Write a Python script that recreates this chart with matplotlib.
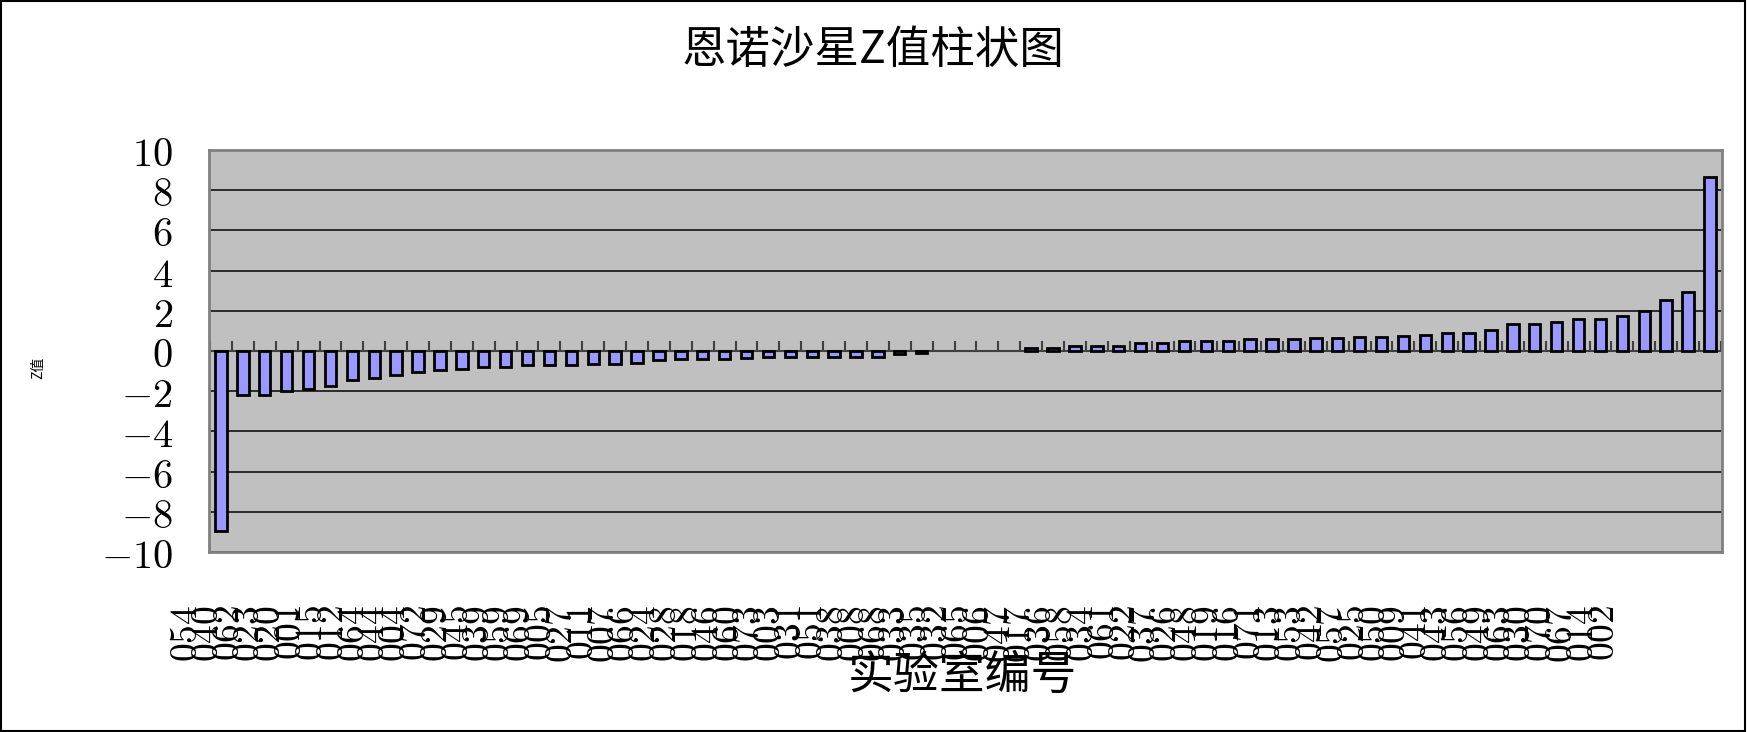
import numpy as np
import matplotlib
matplotlib.use("Agg")
import matplotlib.pyplot as plt
from matplotlib.patches import Rectangle
from matplotlib.ticker import FuncFormatter
import matplotlib.transforms as mtransforms

plt.rcParams['font.family'] = ['Noto Sans CJK SC', 'DejaVu Sans']
plt.rcParams['mathtext.fontset'] = 'cm'

# lab codes (best guess)
labs = ["054", "040", "062", "023", "020", "001", "015", "012", "064", "044",
        "004", "072", "029", "045", "039", "059", "069", "005", "027", "011",
        "007", "066", "024", "028", "018", "046", "060", "073", "003", "031",
        "051", "038", "008", "068", "033", "035", "032", "065", "006", "047",
        "017", "036", "058", "034", "061", "022", "037", "026", "048", "019",
        "016", "071", "013", "053", "042", "057", "025", "050", "009", "041",
        "043", "056", "049", "063", "030", "070", "067", "014", "002"]

z_values = [-8.95, -2.2, -2.2, -2.0, -1.9, -1.75, -1.45, -1.35, -1.2, -1.05,
            -0.95, -0.9, -0.8, -0.78, -0.72, -0.7, -0.68, -0.66, -0.64, -0.58,
            -0.45, -0.42, -0.4, -0.38, -0.33, -0.32, -0.3, -0.29, -0.28, -0.28,
            -0.28, -0.15, -0.12,
            0.0, 0.0, 0.0, 0.0,
            0.15, 0.15, 0.25, 0.25, 0.25, 0.38, 0.38, 0.5, 0.5, 0.52,
            0.6, 0.62, 0.62, 0.65, 0.65, 0.7, 0.72, 0.75, 0.78, 0.9,
            0.9, 1.05, 1.32, 1.32, 1.45, 1.57, 1.57, 1.72, 1.97, 2.52,
            2.92, 8.67]

yticks = list(range(-10, 11, 2))

x = np.arange(len(z_values))

fig = plt.figure(figsize=(17.47, 7.32), dpi=100)
ax = fig.add_axes([0.1196, 0.2459, 0.8661, 0.5492])
ax.set_facecolor('#C0C0C0')

bars = ax.bar(x, z_values, width=0.52, color='#9999FF', edgecolor='black', linewidth=2, zorder=3)
for b, v in zip(bars, z_values):
    if v == 0:
        b.set_linewidth(0)

# category tick marks crossing at zero
ax.vlines(np.arange(-0.5, len(x), 1), 0, 0.5, color='#404040', linewidth=1.5, zorder=2)
ax.axhline(0, color='#404040', linewidth=1.5, zorder=2)

ax.set_xlim(-0.55, len(x) - 0.45)
ax.set_ylim(-10, 10)
ax.set_yticks(yticks)
ax.yaxis.set_major_formatter(FuncFormatter(lambda v, p: "$%d$" % v))
ax.tick_params(axis='y', length=0, pad=26, labelsize=29)
ax.set_xticks([])
ax.yaxis.grid(True, color='#202020', linewidth=1.3)
ax.set_axisbelow(True)
for s in ax.spines.values():
    s.set_color('#808080')
    s.set_linewidth(2)

# x tick labels, squeezed a bit like the original
trans = mtransforms.blended_transform_factory(ax.transData, ax.transAxes)
label_pos = x * 0.9516 - 1.58
for p, lab in zip(label_pos, labs):
    ax.text(p, -0.132, "$%s$" % lab, transform=trans, rotation=90,
            ha='center', va='top', fontsize=27, clip_on=False)

fig.text(0.5, 1 - 50 / 732, "恩诺沙星Z值柱状图", ha='center', va='center', fontsize=32)
fig.text(962 / 1747, 1 - 676 / 732, "实验室编号", ha='center', va='center', fontsize=33)
fig.text(38 / 1747, 1 - 368 / 732, "Z值", ha='center', va='center', rotation=90, fontsize=10)

fig.patches.append(Rectangle((0.0006, 0.002), 0.9985, 0.996, transform=fig.transFigure,
                             fill=False, edgecolor='black', linewidth=1.5))

fig.savefig("out.png", dpi=100)
